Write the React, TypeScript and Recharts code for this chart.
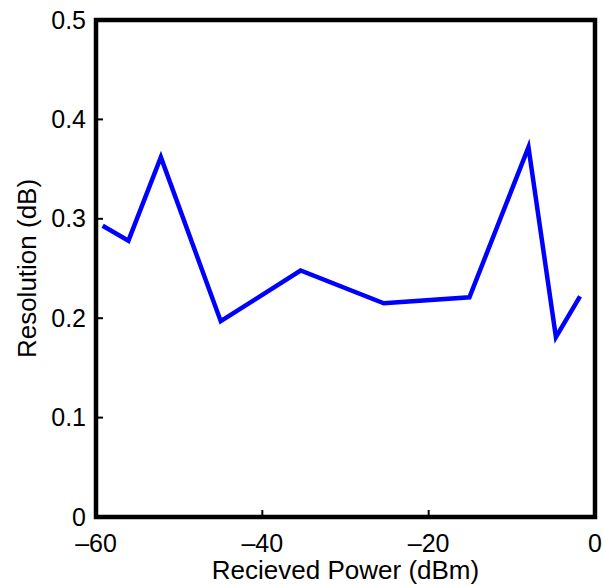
import { LineChart, Line, XAxis, YAxis, ReferenceArea } from "recharts";

const power = [-59.2, -56.1, -52.2, -45.0, -35.4, -25.4, -15.1, -8.0, -4.7, -1.8];
const resolution = [0.293, 0.278, 0.362, 0.197, 0.248, 0.215, 0.221, 0.372, 0.181, 0.222];
const xTicks = [-60, -40, -20, 0];
const yTicks = [0, 0.1, 0.2, 0.3, 0.4, 0.5];

const FONT = "'Liberation Sans', Arial, Helvetica, sans-serif";
const FS = 25;

const rows = power.map((p, i) => ({ power: p, resolution: resolution[i] }));

const fmtX = (v: number) => (v < 0 ? "\u2013" + Math.abs(v) : String(v));
const fmtY = (v: number) => (v === 0 ? "0" : String(Math.round(v * 10) / 10));

const BottomTick = (props: any) => {
  const { x, y, payload } = props;
  return (
    <g>
      <line x1={x} x2={x} y1={y} y2={y - 7} stroke="#000" strokeWidth={2} />
      <text x={x} y={y + 35} textAnchor="middle" fontFamily={FONT} fontSize={FS} fill="#000">
        {fmtX(payload.value)}
      </text>
    </g>
  );
};

const LeftTick = (props: any) => {
  const { x, y, payload } = props;
  return (
    <g>
      <line x1={x} x2={x + 7} y1={y} y2={y} stroke="#000" strokeWidth={2} />
      <text x={x - 10} y={y} dy="0.34em" textAnchor="end" fontFamily={FONT} fontSize={FS} fill="#000">
        {fmtY(payload.value)}
      </text>
    </g>
  );
};

const TopTick = (props: any) => {
  const { x, y } = props;
  return <line x1={x} x2={x} y1={y} y2={y + 7} stroke="#000" strokeWidth={2} />;
};

const RightTick = (props: any) => {
  const { x, y } = props;
  return <line x1={x} x2={x - 7} y1={y} y2={y} stroke="#000" strokeWidth={2} />;
};

const XTitle = (props: any) => {
  const { viewBox } = props;
  const cx = viewBox.x + viewBox.width / 2;
  return (
    <text x={cx} y={viewBox.y + 62} textAnchor="middle" fontFamily={FONT} fontSize={26} fill="#000">
      Recieved Power (dBm)
    </text>
  );
};

const YTitle = (props: any) => {
  const { viewBox } = props;
  const cy = viewBox.y + viewBox.height / 2;
  return (
    <text
      transform={`translate(${viewBox.x + 36},${cy}) rotate(-90)`}
      textAnchor="middle"
      fontFamily={FONT}
      fontSize={26}
      fill="#000"
    >
      Resolution (dB)
    </text>
  );
};

const BoxShape = (props: any) => (
  <rect
    x={props.x}
    y={props.y}
    width={props.width}
    height={props.height}
    fill="none"
    stroke="#000"
    strokeWidth={4.5}
  />
);

export default function App() {
  return (
    <div style={{ width: 603, height: 586, background: "#fff" }}>
      <style>{`body{margin:0}`}</style>
      <LineChart width={603} height={586} data={rows} margin={{ top: 20, right: 8, left: 0, bottom: 0 }}>
        <XAxis
          dataKey="power"
          type="number"
          domain={[-60, 0]}
          ticks={xTicks}
          height={69}
          axisLine={false}
          tickLine={false}
          tickSize={0}
          tickMargin={0}
          tick={<BottomTick />}
          label={<XTitle />}
        />
        <XAxis
          xAxisId="top"
          dataKey="power"
          type="number"
          orientation="top"
          domain={[-60, 0]}
          ticks={xTicks}
          height={0}
          axisLine={false}
          tickLine={false}
          tickSize={0}
          tickMargin={0}
          tick={<TopTick />}
        />
        <YAxis
          type="number"
          domain={[0, 0.5]}
          ticks={yTicks}
          width={96}
          axisLine={false}
          tickLine={false}
          tickSize={0}
          tickMargin={0}
          tick={<LeftTick />}
          label={<YTitle />}
        />
        <YAxis
          yAxisId="right"
          type="number"
          orientation="right"
          domain={[0, 0.5]}
          ticks={yTicks}
          width={0}
          axisLine={false}
          tickLine={false}
          tickSize={0}
          tickMargin={0}
          tick={<RightTick />}
        />
        <Line
          dataKey="resolution"
          type="linear"
          stroke="#0000ff"
          strokeWidth={4.5}
          dot={false}
          isAnimationActive={false}
        />
        <ReferenceArea
          x1={-60}
          x2={0}
          y1={0}
          y2={0.5}
          ifOverflow="visible"
          shape={<BoxShape />}
        />
      </LineChart>
    </div>
  );
}
